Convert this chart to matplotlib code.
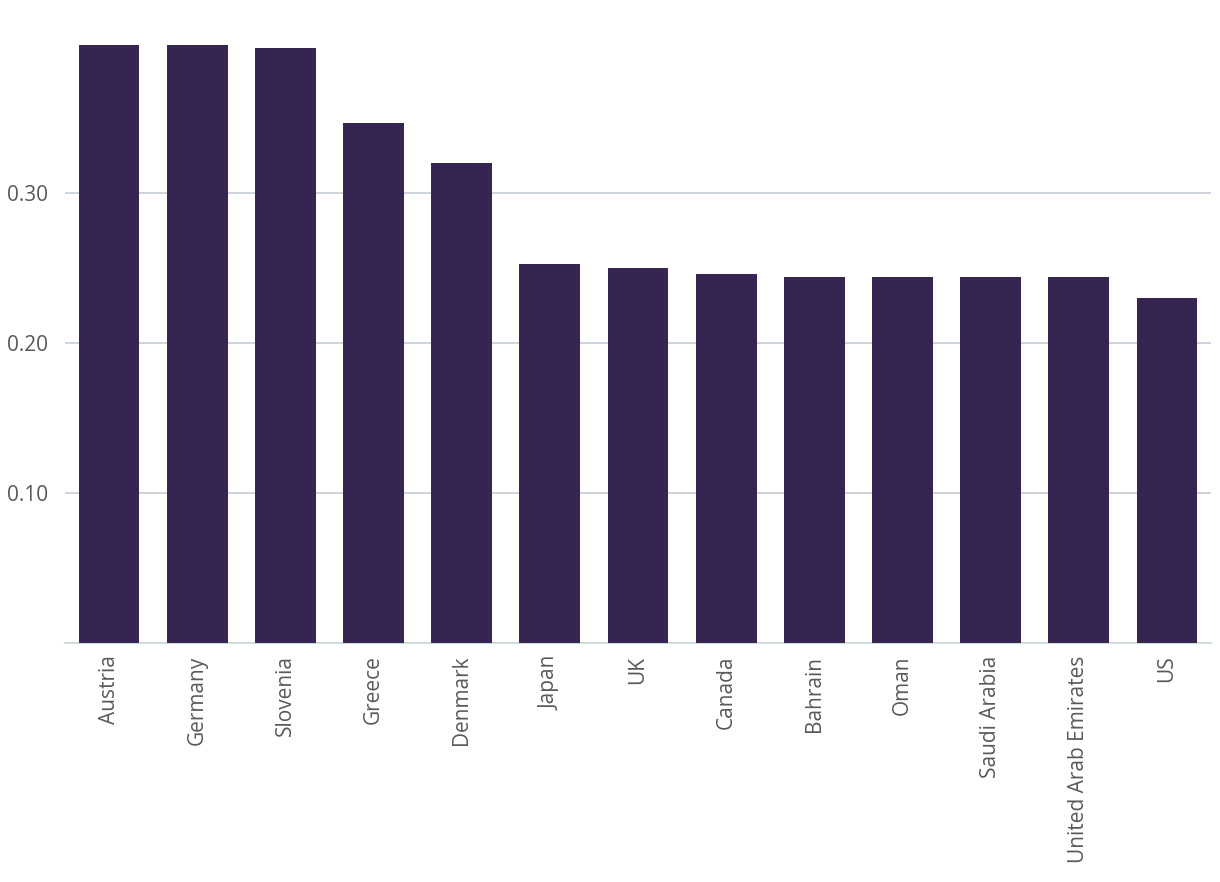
import matplotlib.pyplot as plt

countries = ["Austria", "Germany", "Slovenia", "Greece", "Denmark", "Japan", "UK",
             "Canada", "Bahrain", "Oman", "Saudi Arabia", "United Arab Emirates", "US"]
values = [0.399, 0.399, 0.397, 0.347, 0.320, 0.253, 0.250,
          0.246, 0.244, 0.244, 0.244, 0.244, 0.230]
yticks = [0.10, 0.20, 0.30]
ytick_labels = ["0.10", "0.20", "0.30"]

plt.rcParams['font.family'] = ['Open Sans', 'DejaVu Sans']

fig = plt.figure(figsize=(12.2, 8.82), dpi=100)
ax = fig.add_axes([65 / 1220, 1 - 643 / 882, (1211 - 65) / 1220, (643 - 43) / 882])

ax.bar(range(len(countries)), values, width=0.69, color="#362451", zorder=3)
ax.set_xlim(-0.5, len(countries) - 0.5)
ax.set_ylim(0, 0.40)

ax.set_yticks(yticks)
ax.set_yticklabels(ytick_labels)
ax.set_xticks(range(len(countries)))
ax.set_xticklabels(countries, rotation=90)

ax.grid(axis="y", color="#c5ccd4", linewidth=1.2, zorder=0)
ax.tick_params(axis="both", length=0, labelsize=15, labelcolor="#595959")
ax.tick_params(axis="y", pad=12)
ax.tick_params(axis="x", pad=9)

for s in ["top", "right", "left"]:
    ax.spines[s].set_visible(False)
ax.spines["bottom"].set_color("#d0dce0")
ax.spines["bottom"].set_linewidth(1.5)

fig.savefig("out.png", dpi=100)
